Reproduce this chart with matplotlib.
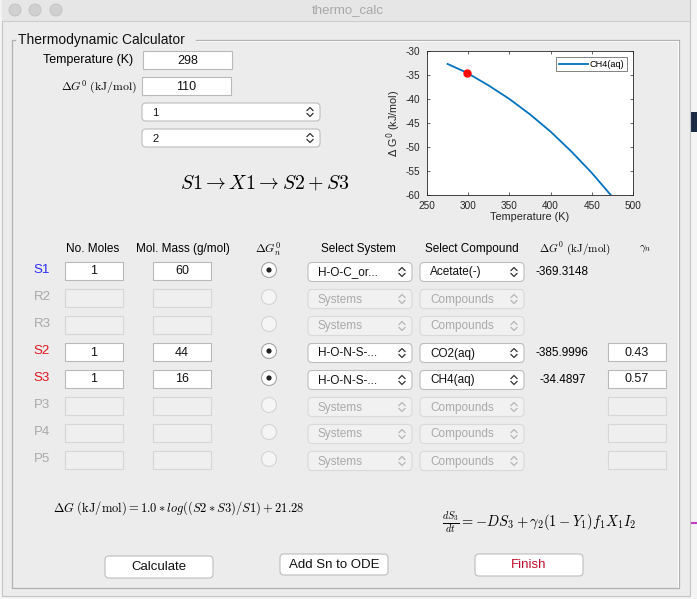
import numpy as np
import matplotlib
matplotlib.use("Agg")
import matplotlib.pyplot as plt
from matplotlib.patches import Rectangle, FancyBboxPatch, Circle

plt.rcParams['font.family'] = ['Liberation Sans', 'DejaVu Sans']
plt.rcParams['mathtext.fontset'] = 'cm'
plt.rcParams['axes.unicode_minus'] = False

# chart data
temps = [275, 298, 325, 350, 375, 400, 425, 450, 473]
dg_ch4 = [-32.7, -34.49, -37.2, -40.0, -43.2, -46.8, -50.9, -55.4, -60.0]
t_now = 298
dg_now = -34.4897

# form values
temperature = "298"
dg0_input = "110"
popup_vals = ["1", "2"]
row_names = ["S1", "R2", "R3", "S2", "S3", "P3", "P4", "P5"]
row_colors = ["#2b2bff", "#a9a9a9", "#a9a9a9", "#e0141e", "#e0141e", "#a9a9a9", "#a9a9a9", "#a9a9a9"]
moles = ["1", "", "", "1", "1", "", "", ""]
masses = ["60", "", "", "44", "16", "", "", ""]
systems = ["H-O-C_or...", "Systems", "Systems", "H-O-N-S-...", "H-O-N-S-...", "Systems", "Systems", "Systems"]
compounds = ["Acetate(-)", "Compounds", "Compounds", "CO2(aq)", "CH4(aq)", "Compounds", "Compounds", "Compounds"]
dg_values = ["-369.3148", "", "", "-385.9996", "-34.4897", "", "", ""]
gammas = ["", None, None, "0.43", "0.57", "", "", ""]
enabled = [True, False, False, True, True, False, False, False]

BG = "#ececec"
fig = plt.figure(figsize=(6.97, 5.99), dpi=100, facecolor=BG)
ax = fig.add_axes([0, 0, 1, 1])
ax.set_xlim(0, 697)
ax.set_ylim(599, 0)
ax.axis("off")

# outside / window frame
ax.add_patch(Rectangle((0, 0), 697, 599, facecolor="#f4f4f4", edgecolor="none"))
ax.add_patch(Rectangle((690, 112), 7, 20, facecolor="#1c2b44", edgecolor="none"))
ax.plot([692, 697], [523, 523], color="#c040c0", lw=1.5)
ax.add_patch(Rectangle((2, 0), 688, 596, facecolor=BG, edgecolor="#c4c4c4", lw=0.8))
ax.add_patch(Rectangle((2, 0), 688, 21, facecolor="#e6e6e6", edgecolor="none"))
ax.plot([2, 690], [21, 21], color="#cdcdcd", lw=0.8)
for cx in [15, 35, 56]:
    ax.add_patch(Circle((cx, 10), 6, facecolor="#d0d0d0", edgecolor="#c0c0c0", lw=0.6))
ax.text(348, 10.5, "thermo_calc", ha="center", va="center", fontsize=9.5, color="#a8a8a8")

# panel
ax.plot([196, 679, 679, 12, 12, 15], [40, 40, 588, 588, 40, 40], color="#b0b0b0", lw=0.9)
ax.plot([197, 678, 678], [41, 41, 587], color="#ffffff", lw=0.6)
ax.text(18, 40, "Thermodynamic Calculator", ha="left", va="center", fontsize=10, color="#111111")


def textbox(x0, x1, yc, txt, on=True, h=18):
    fc = "white" if on else "#efefef"
    ec = "#b9b9b9" if on else "#d6d6d6"
    ax.add_patch(Rectangle((x0, yc - h / 2), x1 - x0, h, facecolor=fc, edgecolor=ec, lw=0.8))
    if txt:
        ax.text((x0 + x1) / 2, yc + 0.5, txt, ha="center", va="center", fontsize=9, color="#111111")


def chevrons(cx, yc, col):
    ax.plot([cx - 3, cx, cx + 3], [yc - 1.5, yc - 4.5, yc - 1.5], color=col, lw=0.9)
    ax.plot([cx - 3, cx, cx + 3], [yc + 1.5, yc + 4.5, yc + 1.5], color=col, lw=0.9)


def popup(x0, x1, yc, txt, on=True, h=19, fs=8.5):
    fc = "white" if on else "#f1f1f1"
    ec = "#bdbdbd" if on else "#d9d9d9"
    ax.add_patch(FancyBboxPatch((x0, yc - h / 2), x1 - x0, h, boxstyle="round,pad=0,rounding_size=4",
                                facecolor=fc, edgecolor=ec, lw=0.8))
    col = "#111111" if on else "#a9a9a9"
    ax.text(x0 + 10, yc + 0.5, txt, ha="left", va="center", fontsize=fs, color=col)
    chevrons(x1 - 10, yc, "#333333" if on else "#b5b5b5")


def radio(cx, cy, checked):
    if checked:
        ax.add_patch(Circle((cx, cy), 7.5, facecolor="white", edgecolor="#a6a6a6", lw=0.8))
        ax.add_patch(Circle((cx, cy), 2.6, facecolor="#222222", edgecolor="none"))
    else:
        ax.add_patch(Circle((cx, cy), 7.5, facecolor="#f5f5f5", edgecolor="#d4d4d4", lw=0.8))


def button(x0, x1, y0, y1, txt, col="#111111"):
    ax.add_patch(FancyBboxPatch((x0, y0), x1 - x0, y1 - y0, boxstyle="round,pad=0,rounding_size=4",
                                facecolor="white", edgecolor="#bdbdbd", lw=0.8))
    ax.text((x0 + x1) / 2, (y0 + y1) / 2 + 0.5, txt, ha="center", va="center", fontsize=9.5, color=col)


# top inputs
ax.text(133, 60.5, "Temperature (K)", ha="right", va="center", fontsize=9)
textbox(143, 232, 60, temperature)
ax.text(137, 87, r"$\Delta G^0\ (\mathrm{kJ/mol})$", ha="right", va="center", fontsize=8.5)
textbox(142, 231, 86, dg0_input)
popup(142, 320, 112, popup_vals[0], h=18, fs=8)
popup(142, 320, 138, popup_vals[1], h=18, fs=8)
ax.text(265, 183, r"$S1 \rightarrow X1 \rightarrow S2 + S3$", ha="center", va="center", fontsize=14.3)

# table header
hy = 249
ax.text(93, hy, "No. Moles", ha="center", va="center", fontsize=8.5)
ax.text(183, hy, "Mol. Mass (g/mol)", ha="center", va="center", fontsize=8.5)
ax.text(268, hy, r"$\Delta G_n^0$", ha="center", va="center", fontsize=8.5)
ax.text(358, hy, "Select System", ha="center", va="center", fontsize=8.5)
ax.text(472, hy, "Select Compound", ha="center", va="center", fontsize=8.5)
ax.text(575, hy, r"$\Delta G^0\ (\mathrm{kJ/mol})$", ha="center", va="center", fontsize=8)
ax.text(645, hy, r"$\gamma_n$", ha="center", va="center", fontsize=8)

for i, name in enumerate(row_names):
    y = 271 + 27 * i
    on = enabled[i]
    ax.text(42, y - 1, name, ha="center", va="center", fontsize=9.5, color=row_colors[i])
    textbox(65, 123, y, moles[i], on)
    textbox(153, 211, y, masses[i], on)
    radio(269, y - 1, on)
    popup(308, 412, y + 1, systems[i], on)
    popup(420, 524, y + 1, compounds[i], on)
    if dg_values[i]:
        ax.text(536 if i != 4 else 539, y + 1, dg_values[i], ha="left", va="center", fontsize=8.5)
    if gammas[i] is not None and i != 0:
        textbox(608, 666, y, gammas[i], on)

# equations
ax.text(53, 508, r"$\Delta G\ (\mathrm{kJ/mol}) = 1.0 * log((S2 * S3)/S1) + 21.28$",
        ha="left", va="center", fontsize=9)
ax.text(442, 523, r"$\frac{dS_3}{dt} = -DS_3 + \gamma_2(1 - Y_1)f_1X_1I_2$",
        ha="left", va="center", fontsize=10.4)

# buttons
button(105, 213, 556, 578, "Calculate")
button(280, 388, 554, 575, "Add Sn to ODE")
button(475, 583, 554, 576, "Finish", col="#c0102a")

# chart
cax = fig.add_axes([427 / 697, (599 - 195) / 599, 206 / 697, 144 / 599])
cax.plot(temps, dg_ch4, color="#0072bd", lw=1.3, label="CH4(aq)")
cax.plot([t_now], [dg_now], "o", color="#ff0000", ms=5, zorder=5)
cax.set_xlim(250, 500)
cax.set_ylim(-60, -30)
cax.set_xticks([250, 300, 350, 400, 450, 500])
cax.set_yticks([-60, -55, -50, -45, -40, -35, -30])
cax.tick_params(direction="in", top=True, right=True, labelsize=7.2, length=2.5, width=0.5,
                colors="#262626")
cax.tick_params(axis="x", pad=4)
cax.tick_params(axis="y", pad=5)
for s in cax.spines.values():
    s.set_linewidth(0.6)
    s.set_color("#262626")
cax.set_xlabel("Temperature (K)", fontsize=7.8, labelpad=1, color="#262626")
cax.set_ylabel(r"$\Delta$ G$^0$ (kJ/mol)", fontsize=7.8, labelpad=2, color="#262626",
               math_fontfamily="dejavusans")
leg = cax.legend(loc="upper right", fontsize=6.6, frameon=True, fancybox=False, handlelength=3.2,
                 borderpad=0.25, handletextpad=0.2, borderaxespad=0.7)
leg.get_frame().set_edgecolor("#262626")
leg.get_frame().set_linewidth(0.5)

fig.savefig("out.png", dpi=100, facecolor=BG)
